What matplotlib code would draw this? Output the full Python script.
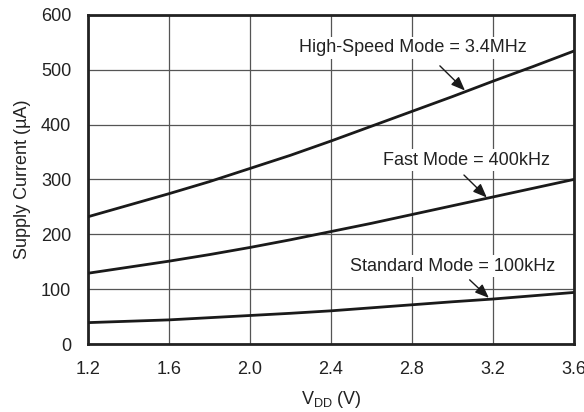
import matplotlib
matplotlib.use("Agg")
import matplotlib.pyplot as plt

plt.rcParams['font.family'] = ['Liberation Sans', 'DejaVu Sans']

# supply voltage (V)
vdd = [1.2, 1.4, 1.6, 1.8, 2.0, 2.2, 2.4, 2.6, 2.8, 3.0, 3.2, 3.4, 3.6]

# supply current (uA)
high_speed = [232, 253, 274, 296, 320, 344, 370, 397, 424, 451, 479, 506, 534]
fast_mode = [129, 140, 151, 163, 176, 190, 205, 220, 236, 252, 268, 284, 300]
standard_mode = [39, 41.5, 44, 48, 52, 56, 60.5, 66, 71.5, 77, 82, 88, 94]

x_ticks = [1.2, 1.6, 2.0, 2.4, 2.8, 3.2, 3.6]
x_tick_labels = ['1.2', '1.6', '2.0', '2.4', '2.8', '3.2', '3.6']
y_ticks = [0, 100, 200, 300, 400, 500, 600]

fig = plt.figure(figsize=(5.84, 4.12), dpi=100)
ax = fig.add_axes([0.1507, 0.165, 0.832, 0.799])

for s in [high_speed, fast_mode, standard_mode]:
    ax.plot(vdd, s, color='#1a1a1a', lw=2.0, zorder=3)

ax.set_xlim(1.2, 3.6)
ax.set_ylim(0, 600)
ax.set_xticks(x_ticks)
ax.set_xticklabels(x_tick_labels)
ax.set_yticks(y_ticks)
ax.tick_params(length=0, labelsize=13, colors='#222222')
ax.tick_params(axis='x', pad=12)
ax.tick_params(axis='y', pad=12)
ax.grid(True, color='#555555', lw=0.9)
ax.set_axisbelow(True)
for sp in ax.spines.values():
    sp.set_linewidth(2.0)
    sp.set_color('#222222')

ax.set_xlabel('V$_{\\mathregular{DD}}$ (V)', fontsize=13, labelpad=8, color='#222222')
ax.set_ylabel('Supply Current (µA)', fontsize=13, labelpad=7, color='#222222')

box = dict(facecolor='white', edgecolor='none', pad=2)
arrow = dict(arrowstyle='-|>,head_length=0.7,head_width=0.28', color='#1a1a1a',
             lw=1.0, mutation_scale=12, shrinkA=0, shrinkB=0)

labels = [
    ('High-Speed Mode = 3.4MHz', (2.805, 540), (2.938, 507), (3.062, 462)),
    ('Fast Mode = 400kHz', (3.07, 335), (3.057, 308), (3.17, 267)),
    ('Standard Mode = 100kHz', (3.00, 142), (3.085, 117), (3.18, 84)),
]
for txt, pos, tail, head in labels:
    ax.text(pos[0], pos[1], txt, ha='center', va='center', fontsize=13,
            bbox=box, zorder=4, color='#222222')
    ax.annotate('', xy=head, xytext=tail, arrowprops=arrow, zorder=5)

fig.savefig('out.png', dpi=100)
